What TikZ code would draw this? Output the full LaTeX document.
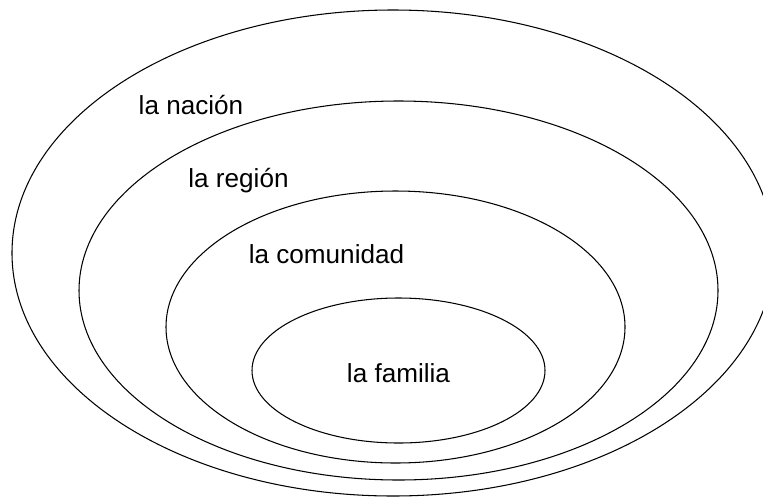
\documentclass[tikz,border=0pt]{standalone}
\usepackage{fontspec}
\setmainfont{Liberation Sans}
\usepackage{tikz}

\begin{document}
\begin{tikzpicture}[x=0.03cm, y=-0.03cm]
  % frame of the picture, outer ring runs off the right edge
  \useasboundingbox (0,0) rectangle (763,498);
  \clip (0,0) rectangle (763,498);
  \tikzset{ring/.style={line width=0.9pt}, lbl/.style={anchor=base, inner sep=0pt, font=\fontsize{22.3}{26}\selectfont}}

  % nested rings, outer to inner
  \draw[ring] (393,253) ellipse (381 and 243);
  \draw[ring] (398.5,290.5) ellipse (319.5 and 189.5);
  \draw[ring] (395.5,327) ellipse (229.5 and 136);
  \draw[ring] (398.5,370.5) ellipse (146.5 and 72.5);

  % labels
  \node[lbl] (nacion) at (191,114) {la naci\'on};
  \node[lbl] (region) at (238.5,187) {la regi\'on};
  \node[lbl] (comunidad) at (326.5,263) {la comunidad};
  \node[lbl] (familia) at (398.5,382) {la familia};

\end{tikzpicture}
\end{document}
